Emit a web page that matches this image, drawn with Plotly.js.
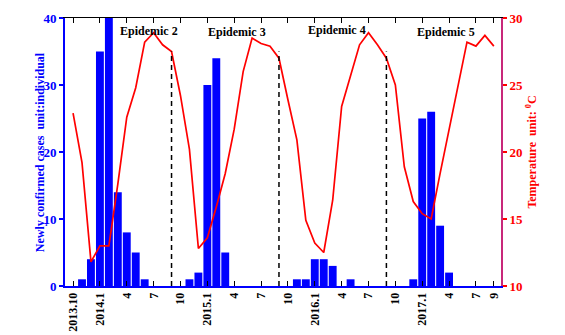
<!DOCTYPE html>
<html>
<head>
<meta charset="utf-8">
<script src="https://cdn.plot.ly/plotly-3.0.1.min.js"></script>
<style>
  html, body { margin: 0; padding: 0; background: #fff; }
  #plot { width: 565px; height: 335px; }
</style>
</head>
<body>
<div id="plot"></div>
<script>
// month index 0 = 2013.10 ... 47 = 2017.9
const monthIdx = Array.from({ length: 48 }, (_, i) => i);

const cases = [
  0, 1, 4, 35, 40, 14, 8, 5, 1, 0, 0, 0,
  0, 1, 2, 30, 34, 5, 0, 0, 0, 0, 0, 0,
  0, 1, 1, 4, 4, 3, 0, 1, 0, 0, 0, 0,
  0, 0, 1, 25, 26, 9, 2, 0, 0, 0, 0, 0
];

const temperature = [
  22.9, 19.2, 11.8, 13.0, 13.0, 17.6, 22.6, 24.8, 28.2, 28.9, 28.0, 27.5,
  24.2, 20.2, 12.8, 13.6, 15.9, 18.4, 21.7, 26.0, 28.5, 28.1, 27.9, 27.0,
  23.9, 20.9, 14.9, 13.2, 12.5, 16.4, 23.4, 25.7, 28.0, 28.9, 28.0, 27.0,
  25.0, 18.9, 16.3, 15.4, 15.0, 18.4, 21.7, 25.0, 28.2, 27.9, 28.7, 27.9
];

const tickIdx = [0, 3, 6, 9, 12, 15, 18, 21, 24, 27, 30, 33, 36, 39, 42, 45, 47];
const tickText = ['2013.10', '2014.1', '4', '7', '10', '2015.1', '4', '7', '10',
                  '2016.1', '4', '7', '10', '2017.1', '4', '7', '9'];

// epidemic boundaries (month index) and their height on the case axis
const dividerIdx = [11, 23, 35];
const dividerTop = 35;

const epidemicNames = ['Epidemic 2', 'Epidemic 3', 'Epidemic 4', 'Epidemic 5'];
const epidemicX = [8.5, 18.3, 29.5, 41.7];
const epidemicY = [38.1, 37.9, 38.2, 37.9];

const serif = 'Liberation Serif, Times New Roman, serif';
const xRange = [-0.9, 47.8];

const dividerX = [], dividerY = [];
dividerIdx.forEach(d => { dividerX.push(d, d, null); dividerY.push(0, dividerTop, null); });

const traces = [
  {
    x: monthIdx, y: cases, type: 'bar',
    marker: { color: '#0000ff' },
    xaxis: 'x', yaxis: 'y', hoverinfo: 'skip'
  },
  {
    x: dividerX, y: dividerY, mode: 'lines',
    line: { color: '#000', width: 1.5, dash: '5px,4px' },
    xaxis: 'x2', yaxis: 'y', hoverinfo: 'skip'
  },
  {
    x: monthIdx, y: temperature, mode: 'lines',
    line: { color: '#ff0000', width: 1.7 },
    xaxis: 'x', yaxis: 'y2', hoverinfo: 'skip'
  }
];

const annotations = epidemicNames.map((t, i) => ({
  x: epidemicX[i], y: epidemicY[i], xref: 'x', yref: 'y',
  text: t, showarrow: false,
  font: { family: serif, size: 12, color: '#000', weight: 'bold' }
}));

// left axis title, placed close to the tick labels as in the original
annotations.push({
  xref: 'paper', yref: 'paper', x: -0.057, y: 0.5,
  xanchor: 'center', yanchor: 'middle', textangle: -90,
  text: 'Newly confirmed cases\u00a0 unit:individual', showarrow: false,
  font: { family: serif, size: 12, color: '#0000ff', weight: 'bold' }
});

const layout = {
  width: 565, height: 335,
  margin: { l: 65, r: 64, t: 18, b: 49 },
  paper_bgcolor: '#fff', plot_bgcolor: '#fff',
  showlegend: false,
  bargap: 0.12,
  font: { family: serif, size: 12, color: '#000', weight: 'bold' },
  xaxis: {
    range: xRange, tickmode: 'array', tickvals: tickIdx, ticktext: tickText,
    tickangle: -90, ticks: 'inside', ticklen: 5, tickcolor: '#000', tickwidth: 1,
    showline: true, linecolor: '#0000ff', linewidth: 2,
    showgrid: false, zeroline: false,
    tickfont: { family: serif, size: 12, color: '#000', weight: 'bold' }
  },
  xaxis2: {
    range: xRange, overlaying: 'x', side: 'top', anchor: 'y',
    tickmode: 'array', tickvals: tickIdx, showticklabels: false,
    ticks: 'inside', ticklen: 5, tickcolor: '#000', tickwidth: 1,
    showline: true, linecolor: '#000', linewidth: 1.5,
    showgrid: false, zeroline: false
  },
  yaxis: {
    range: [0, 40], dtick: 10, ticks: 'outside', ticklen: 4,
    tickcolor: '#0000ff', tickwidth: 2,
    showline: true, linecolor: '#0000ff', linewidth: 2,
    showgrid: false, zeroline: false,
    tickfont: { family: serif, size: 13, color: '#0000ff', weight: 'bold' }
  },
  yaxis2: {
    range: [10, 30], dtick: 5, overlaying: 'y', side: 'right', anchor: 'x',
    ticks: 'outside', ticklen: 4, tickcolor: '#ff0000', tickwidth: 2,
    showline: true, linecolor: '#c8287a', linewidth: 2,
    showgrid: false, zeroline: false,
    tickfont: { family: serif, size: 13, color: '#ff0000', weight: 'bold' },
    title: {
      text: 'Temperature\u00a0 unit: <sup>0</sup>C',
      font: { family: serif, size: 12, color: '#ff0000', weight: 'bold' },
      standoff: 6
    }
  },
  annotations: annotations
};

Plotly.newPlot('plot', traces, layout, { displayModeBar: false, staticPlot: true });
</script>
</body>
</html>
